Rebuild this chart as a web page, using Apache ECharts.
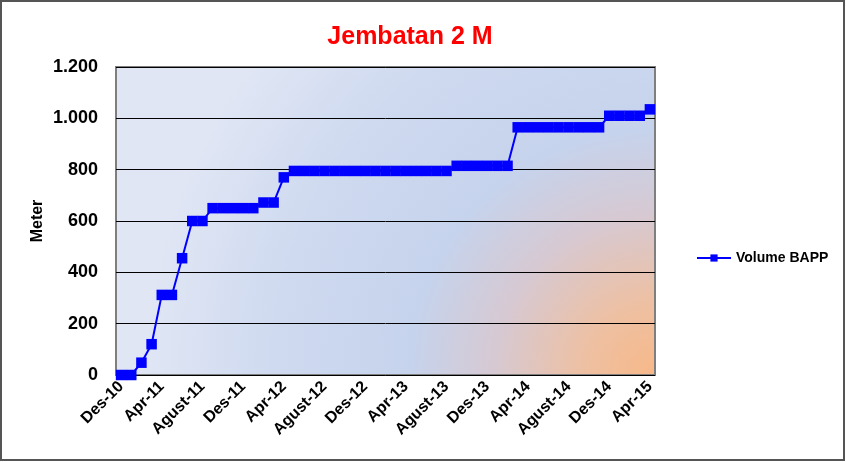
<!DOCTYPE html>
<html>
<head>
<meta charset="utf-8">
<script src="https://cdn.jsdelivr.net/npm/echarts@6/dist/echarts.min.js"></script>
<style>
  html, body { margin: 0; padding: 0; background: #fff; }
  #chart { width: 846px; height: 462px; }
</style>
</head>
<body>
<div id="chart"></div>
<script>
// bulan Des-10 s/d Apr-15
var months = ['Des-10','Jan-11','Feb-11','Mar-11','Apr-11','Mei-11','Jun-11','Jul-11','Agust-11','Sep-11','Okt-11','Nov-11',
  'Des-11','Jan-12','Feb-12','Mar-12','Apr-12','Mei-12','Jun-12','Jul-12','Agust-12','Sep-12','Okt-12','Nov-12',
  'Des-12','Jan-13','Feb-13','Mar-13','Apr-13','Mei-13','Jun-13','Jul-13','Agust-13','Sep-13','Okt-13','Nov-13',
  'Des-13','Jan-14','Feb-14','Mar-14','Apr-14','Mei-14','Jun-14','Jul-14','Agust-14','Sep-14','Okt-14','Nov-14',
  'Des-14','Jan-15','Feb-15','Mar-15','Apr-15'];

// volume BAPP (meter)
var volumeBAPP = [0, 0, 48, 120, 312, 312, 455, 600, 600, 650, 650, 650, 650, 650, 672, 672, 770,
  795, 795, 795, 795, 795, 795, 795, 795, 795, 795, 795, 795, 795, 795, 795, 795,
  815, 815, 815, 815, 815, 815,
  965, 965, 965, 965, 965, 965, 965, 965, 965,
  1010, 1010, 1010, 1010, 1035];

var yTicks = [0, 200, 400, 600, 800, 1000, 1200];

var myChart = echarts.init(document.getElementById('chart'));

var fontName = 'Arial, "Liberation Sans", sans-serif';

var option = {
  animation: false,
  textStyle: { fontFamily: fontName },
  title: {
    text: 'Jembatan 2 M',
    left: 405,
    top: 20,
    textAlign: 'center',
    textStyle: { color: '#ff0000', fontSize: 25, fontWeight: 'bold', fontFamily: fontName }
  },
  // bingkai luar
  graphic: [{
    type: 'rect',
    shape: { x: 1, y: 1, width: 843, height: 459 },
    style: { fill: 'none', stroke: '#555', lineWidth: 2 },
    silent: true
  }],
  legend: {
    left: 691,
    top: 246,
    itemWidth: 34,
    itemHeight: 9,
    itemGap: 6,
    textStyle: { fontSize: 14, fontWeight: 'bold', color: '#000', fontFamily: fontName },
    data: ['Volume BAPP']
  },
  grid: {
    left: 116,
    right: 191,
    top: 67,
    bottom: 87,
    show: true,
    borderColor: '#7f7f7f',
    borderWidth: 2,
    backgroundColor: {
      type: 'radial',
      x: 1, y: 1, r: 1.65,
      colorStops: [
        { offset: 0, color: '#f7b888' },
        { offset: 0.14, color: '#eec0a2' },
        { offset: 0.32, color: '#d6c9d3' },
        { offset: 0.48, color: '#c6d3ec' },
        { offset: 0.75, color: '#cfdaf0' },
        { offset: 1, color: '#e0e6f4' }
      ]
    }
  },
  xAxis: {
    type: 'category',
    data: months,
    boundaryGap: true,
    axisLine: { show: false },
    axisTick: { show: false },
    axisLabel: {
      interval: 3,
      rotate: 45,
      margin: 9,
      color: '#000',
      fontSize: 16,
      fontWeight: 'bold'
    },
    splitLine: { show: false }
  },
  yAxis: {
    type: 'value',
    min: yTicks[0],
    max: yTicks[yTicks.length - 1],
    interval: 200,
    name: 'Meter',
    nameLocation: 'middle',
    nameGap: 70,
    nameMoveOverlap: false,
    nameTextStyle: { fontSize: 16, fontWeight: 'bold', color: '#000' },
    axisLine: { show: false },
    axisTick: { show: false },
    axisLabel: {
      margin: 18,
      color: '#000',
      fontSize: 18,
      fontWeight: 'bold',
      formatter: function (v) {
        return String(v).replace(/\B(?=(\d{3})+(?!\d))/g, '.');
      }
    },
    splitLine: { lineStyle: { color: '#000', width: 1 } }
  },
  series: [{
    name: 'Volume BAPP',
    type: 'line',
    data: volumeBAPP,
    symbol: 'rect',
    symbolSize: 10.5,
    showAllSymbol: true,
    color: '#0000ff',
    lineStyle: { color: '#0000ff', width: 2 },
    itemStyle: { color: '#0000ff' }
  }]
};

myChart.setOption(option);
</script>
</body>
</html>
